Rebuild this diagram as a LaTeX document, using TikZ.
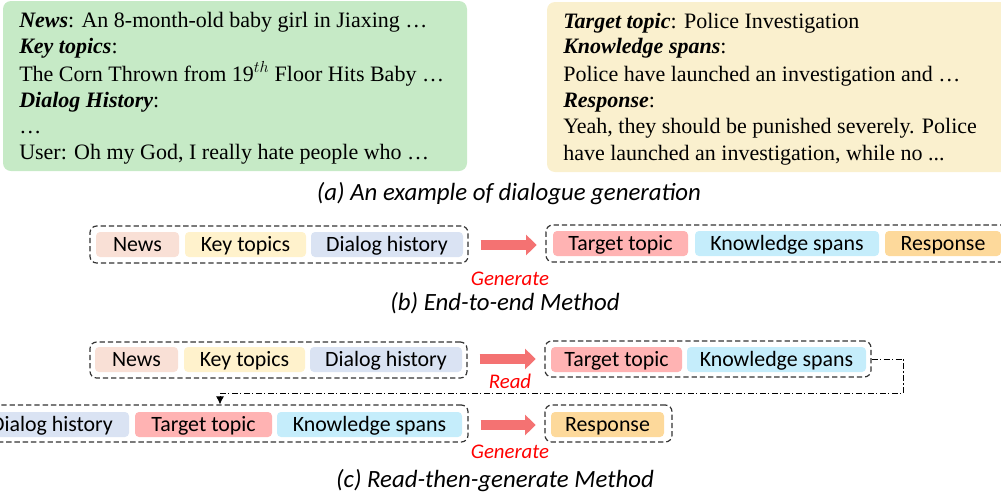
\documentclass[tikz,border=0pt]{standalone}
\usepackage{fontspec}
\setmainfont{Liberation Serif}
\newfontfamily\calfont{Carlito}
\usetikzlibrary{arrows.meta}
\definecolor{greenbg}{HTML}{C6EAC6}
\definecolor{yellowbg}{HTML}{FAF0CE}
\definecolor{newsc}{HTML}{F9E0D6}
\definecolor{keyc}{HTML}{FFF2CC}
\definecolor{dialc}{HTML}{DAE3F3}
\definecolor{targc}{HTML}{FFB3B3}
\definecolor{knowc}{HTML}{C5EDFB}
\definecolor{respc}{HTML}{FDD99B}
\definecolor{arrc}{HTML}{F47272}
\newcommand\mybox[7]{\node[#6, minimum width={(#4-#2)*0.75pt}, minimum height={(#5-#3)*0.75pt}] (#1) at ({(#2+#4)/2},{(#3+#5)/2}) {#7};}
\tikzset{
  tag/.style={inner sep=0pt, rounded corners=3pt, text height=10.4pt, text depth=0pt, font=\calfont\fontsize{16.4pt}{19pt}\selectfont},
  group/.style={draw=black!80, line width=0.9pt, dash pattern=on 4pt off 2.2pt, rounded corners=5pt, inner sep=0pt},
  bigarrow/.style={draw=arrc, line width=7.5pt, -{Triangle[length=8pt,width=15pt]}},
  redlab/.style={text=red, font=\calfont\itshape\fontsize{15.6pt}{18pt}\selectfont, anchor=base},
  caption/.style={font=\calfont\itshape\fontsize{18.6pt}{22pt}\selectfont, anchor=base},
  body/.style={anchor=base west, inner sep=0pt, font=\fontsize{16.5pt}{19pt}\selectfont},
  loop/.style={draw=black, line width=0.75pt, dash pattern=on 4.5pt off 1.8pt on 0.9pt off 1.8pt}
}
\begin{document}
\begin{tikzpicture}[x=0.75pt,y=-0.75pt]
\useasboundingbox (0,0) rectangle (1001,497);
% (a) example
\mybox{green}{3}{1}{467}{171}{fill=greenbg, rounded corners=6pt}{}
\mybox{yellow}{547}{2}{1015}{172}{fill=yellowbg, rounded corners=6pt}{}
\node[body] (n1) at (19,27) {\textbf{\textit{News}}: An 8-month-old baby girl in Jiaxing …};
\node[body] (n2) at (19,53) {\textbf{\textit{Key topics}}:};
\node[body] (n3) at (19,81) {The Corn Thrown from 19$^{th}$ Floor Hits Baby …};
\node[body] (n4) at (19,107) {\textbf{\textit{Dialog History}}:};
\node[body] (n5) at (19,133) {…};
\node[body] (n6) at (19,159) {User: Oh my God, I really hate people who …};
\node[body] (y1) at (563,28) {\textbf{\textit{Target topic}}: Police Investigation};
\node[body] (y2) at (563,53) {\textbf{\textit{Knowledge spans}}:};
\node[body] (y3) at (563,81) {Police have launched an investigation and …};
\node[body] (y4) at (563,107) {\textbf{\textit{Response}}:};
\node[body] (y5) at (563,133) {Yeah, they should be punished severely. Police};
\node[body] (y6) at (563,160) {have launched an investigation, while no ...};
\node[caption] (capa) at (509,200) {(a) An example of dialogue generation};
% (b) end-to-end
\mybox{bin}{90}{226}{468}{263}{group}{}
\mybox{bnews}{96}{232}{179}{257}{tag, fill=newsc}{News}
\mybox{bkey}{185}{232}{306}{257}{tag, fill=keyc}{Key topics}
\mybox{bdial}{311}{232}{463}{257}{tag, fill=dialc}{Dialog history}
\mybox{bout}{546}{225}{1012}{262}{group}{}
\mybox{btarg}{553}{231}{688}{256}{tag, fill=targc}{Target topic}
\mybox{bknow}{695}{231}{879}{256}{tag, fill=knowc}{Knowledge spans}
\mybox{bresp}{885}{231}{1001}{256}{tag, fill=respc}{Response}
\draw[bigarrow, shorten <=9pt, shorten >=6.5pt] (bin.east |- 0,245) -- (bout.west |- 0,245);
\node[redlab] (bgen) at (510,285) {Generate};
\node[caption] (capb) at (505,310) {(b) End-to-end Method};
% (c) read-then-generate
\mybox{cin}{90}{342}{467}{378}{group}{}
\mybox{cnews}{95}{347}{178}{372}{tag, fill=newsc}{News}
\mybox{ckey}{184}{347}{305}{372}{tag, fill=keyc}{Key topics}
\mybox{cdial}{310}{347}{462}{372}{tag, fill=dialc}{Dialog history}
\mybox{cmid}{545}{341}{871}{377}{group}{}
\mybox{ctarg}{551}{347}{682}{372}{tag, fill=targc}{Target topic}
\mybox{cknow}{687}{347}{866}{372}{tag, fill=knowc}{Knowledge spans}
\draw[bigarrow, shorten <=9pt, shorten >=6.5pt] (cin.east |- 0,359) -- (cmid.west |- 0,359);
\node[redlab] (cread) at (510,388) {Read};
\mybox{cin2}{-40}{405}{468}{442}{group}{}
\mybox{cdial2}{-25}{412}{129}{437}{tag, fill=dialc}{Dialog history}
\mybox{ctarg2}{135}{412}{272}{437}{tag, fill=targc}{Target topic}
\mybox{cknow2}{277}{412}{462}{437}{tag, fill=knowc}{Knowledge spans}
\mybox{cout}{545}{405}{672}{442}{group}{}
\mybox{cresp}{551}{412}{664}{437}{tag, fill=respc}{Response}
\draw[bigarrow, shorten <=9pt, shorten >=6.5pt] (cin2.east |- 0,425) -- (cout.west |- 0,425);
\node[redlab] (cgen) at (510,458) {Generate};
\coordinate (turn) at (220,393);
\draw[loop, -{Latex[length=6pt,width=6pt]}] (cmid.east) -- ++(32,0) |- (turn) -- (turn |- cin2.north);
\node[caption] (capc) at (495,487) {(c) Read-then-generate Method};
\end{tikzpicture}
\end{document}
